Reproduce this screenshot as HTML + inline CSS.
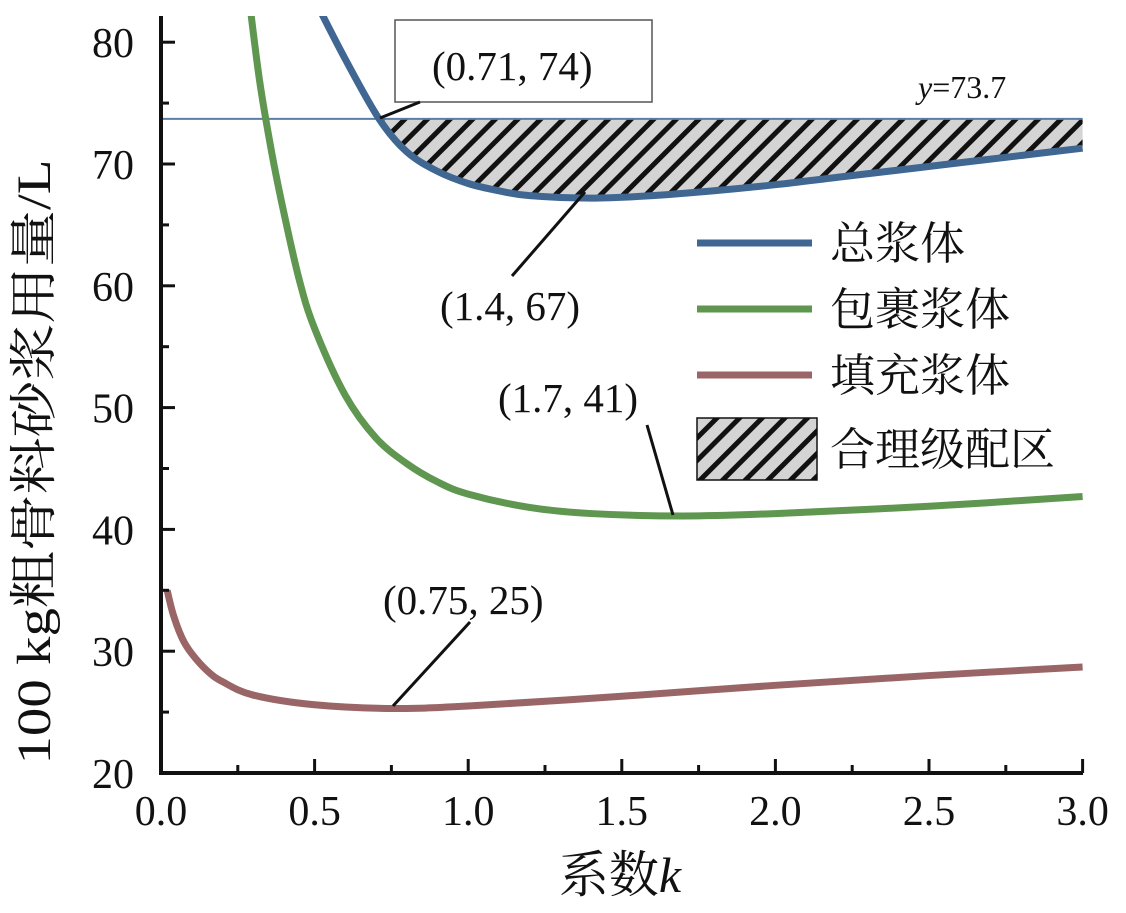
<!DOCTYPE html>
<html><head><meta charset="utf-8"><style>
body{margin:0;background:#fff}
svg text{font-family:"Liberation Serif","Noto Serif CJK SC",serif;fill:#111}
</style></head><body>
<svg id="chart" width="1126" height="908" viewBox="0 0 1126 908">
<defs>
<pattern id="hatch" patternUnits="userSpaceOnUse" width="16" height="16" patternTransform="rotate(45)">
<rect width="16" height="16" fill="#d4d4d4"/><rect x="0" y="0" width="5" height="16" fill="#111"/>
</pattern>
<clipPath id="plotclip"><rect x="161" y="16" width="925" height="757"/></clipPath>
</defs>
<g id="hatchg" clip-path="url(#plotclip)"></g>
<g id="curves" clip-path="url(#plotclip)"></g>
<g id="axes"></g>
</svg>
<script>
const xTicks=[0,0.5,1.0,1.5,2.0,2.5,3.0];
const xTickLabels=["0.0","0.5","1.0","1.5","2.0","2.5","3.0"];
const yTicks=[20,30,40,50,60,70,80];
const yTickLabels=["20","30","40","50","60","70","80"];
const totalK=[0.5,0.6,0.71,0.8,0.9,1.0,1.1,1.2,1.4,1.6,1.8,2.0,2.2,2.4,2.6,2.8,3.0];
const totalV=[83.5,78.6,73.7,71.0,69.4,68.4,67.8,67.4,67.2,67.4,67.8,68.3,68.9,69.5,70.1,70.7,71.3];
const wrapK=[0.28,0.32,0.36,0.4,0.45,0.5,0.6,0.7,0.8,0.9,1.0,1.2,1.4,1.7,2.0,2.5,3.0];
const wrapV=[85,77,71,66,60.5,56.5,51,47.5,45.4,43.9,42.9,41.8,41.3,41.1,41.3,41.9,42.7];
const fillK=[0.02,0.04,0.07,0.1,0.15,0.2,0.3,0.5,0.75,1.0,1.5,2.0,2.5,3.0];
const fillV=[35,33,31,29.8,28.4,27.5,26.4,25.6,25.3,25.5,26.3,27.2,28.0,28.7];
const yLimit=73.7;
const NS="http://www.w3.org/2000/svg";
const X=k=>161+k*307.2;
const Y=v=>773-(v-20)*12.18;
function el(t,a,p){const e=document.createElementNS(NS,t);for(const k in a)e.setAttribute(k,a[k]);(p||document.getElementById('chart')).appendChild(e);return e;}
function spline(ks,vs){
  const pts=ks.map((k,i)=>[X(k),Y(vs[i])]);let d="M"+pts[0][0]+","+pts[0][1];
  for(let i=0;i<pts.length-1;i++){const p0=pts[Math.max(0,i-1)],p1=pts[i],p2=pts[i+1],p3=pts[Math.min(pts.length-1,i+2)];
    d+=" C"+(p1[0]+(p2[0]-p0[0])/6)+","+(p1[1]+(p2[1]-p0[1])/6)+" "+(p2[0]-(p3[0]-p1[0])/6)+","+(p2[1]-(p3[1]-p1[1])/6)+" "+p2[0]+","+p2[1];}
  return d;}
const hg=document.getElementById('hatchg'),cg=document.getElementById('curves'),ag=document.getElementById('axes');
const si=totalK.indexOf(0.71);
const hk=totalK.slice(si),hv=totalV.slice(si);
let hd=spline(hk,hv)+" L"+X(3)+","+Y(yLimit)+" L"+X(0.71)+","+Y(yLimit)+" Z";
const hr=el('path',{d:hd,fill:"url(#hatch)"},hg);


const hl=el('line',{x1:161,y1:Y(yLimit),x2:X(3),y2:Y(yLimit),stroke:"#5a7ea8","stroke-width":2},hg);


const series=[[totalK,totalV,"#3f6792","total-paste-curve"],[wrapK,wrapV,"#5f9650","wrapping-paste-curve"],[fillK,fillV,"#9a6566","filling-paste-curve"]];
series.forEach(s=>{const p=el('path',{d:spline(s[0],s[1]),fill:"none",stroke:s[2],"stroke-width":7},cg);

});
const ax=el('path',{d:"M161,16 L161,773 L1083,773",fill:"none",stroke:"#111","stroke-width":4},ag);


for(let i=0;i<xTicks.length;i++){const x=X(xTicks[i]);
  el('line',{x1:x,y1:773,x2:x,y2:759,stroke:"#111","stroke-width":3},ag);
  if(i<xTicks.length-1)el('line',{x1:X(xTicks[i]+0.25),y1:773,x2:X(xTicks[i]+0.25),y2:765,stroke:"#111","stroke-width":3},ag);
  const t=el('text',{x:x,y:825,"font-size":42,"text-anchor":"middle"},ag);t.textContent=xTickLabels[i];
  
  }
for(let i=0;i<yTicks.length;i++){const y=Y(yTicks[i]);
  el('line',{x1:161,y1:y,x2:175,y2:y,stroke:"#111","stroke-width":3},ag);
  if(i<yTicks.length-1)el('line',{x1:161,y1:Y(yTicks[i]+5),x2:169,y2:Y(yTicks[i]+5),stroke:"#111","stroke-width":3},ag);
  const t=el('text',{x:134,y:y+15,"font-size":42,"text-anchor":"end"},ag);t.textContent=yTickLabels[i];
  
  }
</script>
<svg width="1126" height="908" style="position:absolute;left:0;top:0">
<text x="50" y="462" font-size="48" text-anchor="middle" textLength="605" lengthAdjust="spacingAndGlyphs" transform="rotate(-90 50 462)">100 kg粗骨料砂浆用量/L</text>
<text x="620" y="892" font-size="50" text-anchor="middle">系数<tspan font-style="italic">k</tspan></text>
<rect x="395" y="20" width="257" height="82" fill="#fff" stroke="#555" stroke-width="1.5"/>
<text x="432" y="80" font-size="41">(0.71, 74)</text>
<line x1="380" y1="118" x2="420" y2="102" stroke="#111" stroke-width="3"/>
<text x="918" y="98" font-size="32"><tspan font-style="italic">y</tspan>=73.7</text>
<text x="440" y="320" font-size="41">(1.4, 67)</text>
<line x1="512" y1="276" x2="585" y2="192" stroke="#111" stroke-width="3"/>
<text x="498" y="412" font-size="41">(1.7, 41)</text>
<line x1="647" y1="425" x2="673" y2="515" stroke="#111" stroke-width="3"/>
<text x="383" y="614" font-size="41">(0.75, 25)</text>
<line x1="470" y1="622" x2="393" y2="706" stroke="#111" stroke-width="3"/>
<g>
<line x1="697" y1="243" x2="812" y2="243" stroke="#3f6792" stroke-width="7"/>
<text x="830" y="259" font-size="45">总浆体</text>
<line x1="697" y1="309" x2="812" y2="309" stroke="#5f9650" stroke-width="7"/>
<text x="830" y="325" font-size="45">包裹浆体</text>
<line x1="697" y1="375" x2="812" y2="375" stroke="#9a6566" stroke-width="7"/>
<text x="830" y="391" font-size="45">填充浆体</text>
<rect x="697" y="418" width="120" height="62" fill="url(#hatch)" stroke="#111" stroke-width="1.5"/>
<text x="830" y="465" font-size="45">合理级配区</text>
</g>
</svg>
</body></html>
